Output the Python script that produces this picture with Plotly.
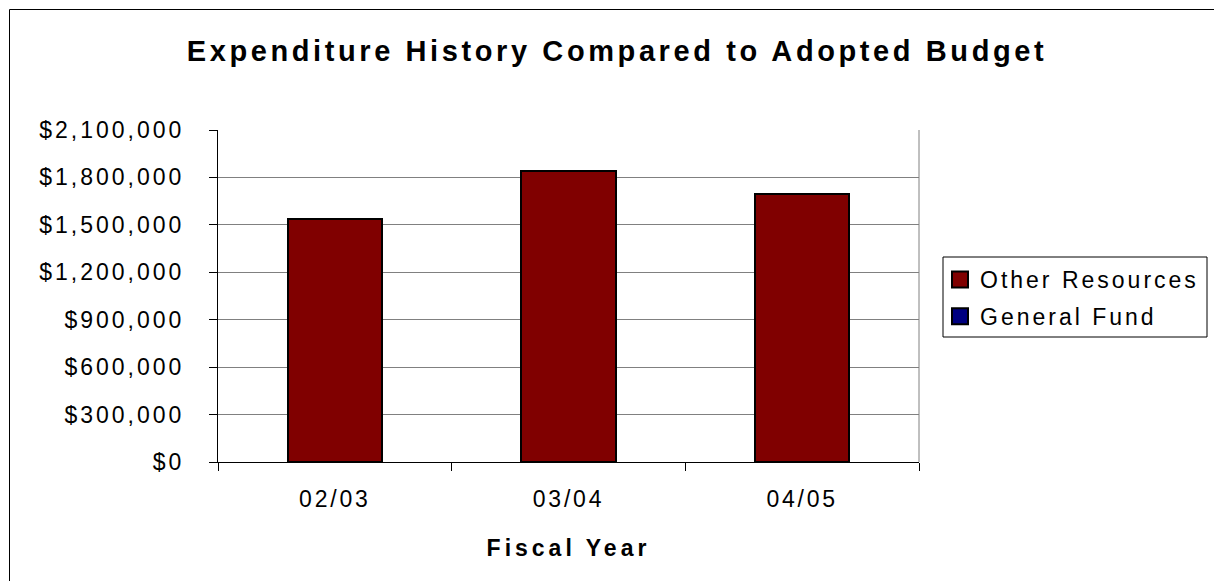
import plotly.graph_objects as go

categories = ["02/03", "03/04", "04/05"]
other_resources = [1537000, 1843000, 1696000]
general_fund = [0, 0, 0]
y_ticks = [0, 300000, 600000, 900000, 1200000, 1500000, 1800000, 2100000]
y_tick_labels = ["$0", "$300,000", "$600,000", "$900,000", "$1,200,000",
                 "$1,500,000", "$1,800,000", "$2,100,000"]

FONT = "Liberation Sans, Arial, sans-serif"

W, H = 1214, 581
L, R, T, B = 218, 295, 130, 119
pw, ph = W - L - R, H - T - B


def px(xp):
    return (xp - L) / pw


def py(yp):
    return (H - B - yp) / ph


fig = go.Figure()
fig.add_trace(go.Bar(
    x=categories, y=other_resources, name="Other Resources",
    marker=dict(color="#800000", line=dict(color="black", width=2)),
    legendgroup="a",
))
fig.add_trace(go.Bar(
    x=categories, y=general_fund, name="General Fund",
    marker=dict(color="#000080", line=dict(color="black", width=2)),
    legendgroup="b",
))

fig.update_layout(
    width=W, height=H,
    margin=dict(l=L, r=R, t=T, b=B, autoexpand=False),
    paper_bgcolor="white", plot_bgcolor="white",
    barmode="stack", bargap=0.595,
    font=dict(family=FONT, size=23, color="black"),
    title=dict(text="<b>Expenditure History Compared to Adopted Budget</b>",
               x=617 / W, xanchor="center", y=1 - 51 / H, yanchor="middle",
               font=dict(family=FONT, size=29, color="black")),
    showlegend=True,
    legend=dict(x=px(940), xanchor="left", y=py(258), yanchor="top",
                borderwidth=0, bgcolor="rgba(0,0,0,0)",
                font=dict(family=FONT, size=23), traceorder="grouped",
                tracegroupgap=4),
    xaxis=dict(
        showline=True, linecolor="black", linewidth=1,
        ticks="outside", ticklen=8, tickcolor="black", tickson="boundaries",
        tickfont=dict(family=FONT, size=23), ticklabelstandoff=16,
        title=dict(text="<b>Fiscal Year</b>", font=dict(family=FONT, size=23), standoff=29),
        showgrid=False,
    ),
    yaxis=dict(
        range=[0, 2100000], tickvals=y_ticks, ticktext=y_tick_labels,
        showline=True, linecolor="black", linewidth=1,
        ticks="outside", ticklen=8, tickcolor="black",
        showgrid=True, gridcolor="#808080", gridwidth=1,
        tickfont=dict(family=FONT, size=23), zeroline=False,
        ticklabelstandoff=20,
    ),
    shapes=[
        dict(type="line", xref="paper", yref="paper", x0=1, x1=1, y0=0, y1=1,
             line=dict(color="#808080", width=1)),
        dict(type="rect", xref="paper", yref="paper",
             x0=px(9.5), x1=px(1300), y0=py(700), y1=py(9.5),
             line=dict(color="black", width=1), layer="below"),
        dict(type="rect", xref="paper", yref="paper",
             x0=px(943), x1=px(1207), y0=py(337), y1=py(257),
             line=dict(color="black", width=1), layer="below"),
    ],
)

post = """
document.body.style.margin = '0';
var gd = document.getElementById('{plot_id}');
function sp(sel, v) { gd.querySelectorAll(sel).forEach(function(t){ t.style.letterSpacing = v; }); }
sp('.gtitle', '3.6px');
sp('.xtitle', '4px');
sp('.xtick text', '2.8px');
sp('.ytick text', '3px');
sp('.legendtext', '3px');
gd.querySelectorAll('.legend [clip-path]').forEach(function(e){ e.removeAttribute('clip-path'); });
gd.querySelectorAll('.legendpoints path').forEach(function(p){ p.setAttribute('d', 'M8,8H-8V-8H8Z'); });
"""

fig.write_html("out.html", post_script=post, config={"displayModeBar": False})
